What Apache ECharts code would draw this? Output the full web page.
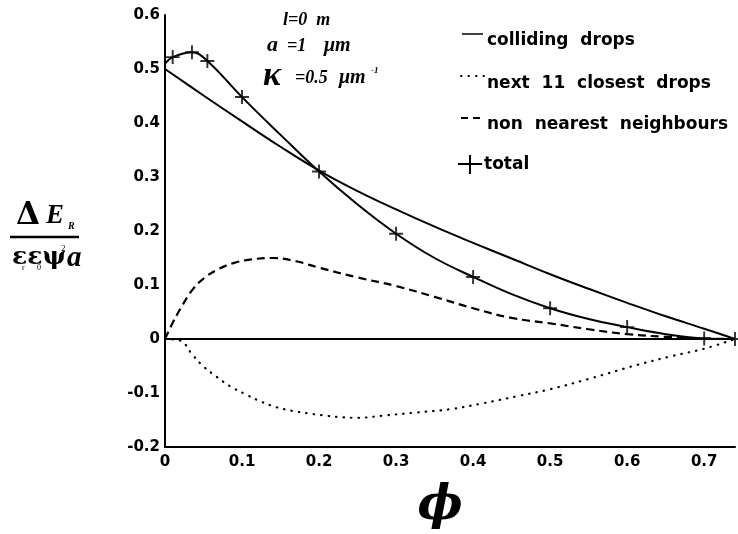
<!DOCTYPE html>
<html><head><meta charset="utf-8">
<script src="https://cdn.jsdelivr.net/npm/echarts@6/dist/echarts.min.js"></script>
<style>html,body{margin:0;padding:0;background:#fff}#c{width:738px;height:534px}</style>
</head><body><div id="c"></div>
<script>
// ---- data ----
const collidingX = [0, 0.05, 0.1, 0.15, 0.2, 0.25, 0.3, 0.35, 0.4, 0.45, 0.5, 0.55, 0.6, 0.65, 0.7, 0.74];
const collidingY = [0.5, 0.451, 0.403, 0.356, 0.312, 0.274, 0.24, 0.208, 0.178, 0.149, 0.12, 0.093, 0.067, 0.042, 0.019, 0];

const next11X = [0, 0.02, 0.035, 0.05, 0.067, 0.084, 0.104, 0.123, 0.144, 0.165, 0.187, 0.209, 0.23, 0.25, 0.283, 0.327, 0.37, 0.413, 0.457, 0.5, 0.55, 0.613, 0.66, 0.7, 0.74];
const next11Y = [0, -0.003, -0.028, -0.051, -0.07, -0.087, -0.102, -0.115, -0.126, -0.133, -0.138, -0.142, -0.145, -0.146, -0.142, -0.136, -0.13, -0.119, -0.106, -0.093, -0.074, -0.048, -0.031, -0.018, 0];

const nonNearestX = [0, 0.01, 0.02, 0.035, 0.05, 0.07, 0.09, 0.11, 0.14, 0.17, 0.2, 0.25, 0.3, 0.35, 0.4, 0.45, 0.5, 0.55, 0.6, 0.65, 0.7, 0.74];
const nonNearestY = [0, 0.03, 0.056, 0.09, 0.112, 0.13, 0.141, 0.147, 0.15, 0.144, 0.132, 0.114, 0.098, 0.078, 0.057, 0.039, 0.029, 0.018, 0.009, 0.004, 0.001, 0];

const totalX = [0, 0.01, 0.035, 0.055, 0.1, 0.15, 0.2, 0.25, 0.3, 0.35, 0.4, 0.45, 0.5, 0.55, 0.6, 0.65, 0.7, 0.74];
const totalY = [0.51, 0.522, 0.531, 0.515, 0.448, 0.378, 0.31, 0.249, 0.195, 0.15, 0.115, 0.083, 0.057, 0.037, 0.022, 0.009, 0.001, 0];

const totalMarkX = [0.01, 0.035, 0.055, 0.1, 0.2, 0.3, 0.4, 0.5, 0.6, 0.7, 0.74];
const totalMarkY = [0.522, 0.531, 0.515, 0.448, 0.31, 0.195, 0.115, 0.057, 0.022, 0.001, 0];

const legendLabels = ['colliding  drops', 'next  11  closest  drops', 'non  nearest  neighbours', 'total'];
const xTitle = 'ϕ';

const zip = (xs, ys) => xs.map((x, i) => [x, ys[i]]);
const fmt = v => Math.abs(v) < 1e-9 ? '0' : v.toFixed(1);
const SANS = 'DejaVu Sans';
const SERIF = 'Liberation Serif';
const PLUS = 'path://M0,8.6H20V11.4H0Z M8.6,0H11.4V20H8.6Z';

const chart = echarts.init(document.getElementById('c'), null, {renderer: 'canvas'});

const legendY = [34, 76, 118, 164];
const textY = [41, 84, 125, 165];
const g = [];
// legend samples
g.push({type: 'line', shape: {x1: 462, y1: legendY[0], x2: 483, y2: legendY[0]}, style: {stroke: '#000', lineWidth: 1.5}});
g.push({type: 'line', shape: {x1: 461, y1: legendY[1], x2: 484, y2: legendY[1]}, style: {stroke: '#000', lineWidth: 2, lineDash: [0.5, 7], lineCap: 'round'}});
g.push({type: 'line', shape: {x1: 461, y1: legendY[2], x2: 484, y2: legendY[2]}, style: {stroke: '#000', lineWidth: 2, lineDash: [7, 5]}});
g.push({type: 'line', shape: {x1: 458, y1: legendY[3], x2: 482, y2: legendY[3]}, style: {stroke: '#000', lineWidth: 2}});
g.push({type: 'line', shape: {x1: 470, y1: 155, x2: 470, y2: 174}, style: {stroke: '#000', lineWidth: 2}});
legendLabels.forEach((t, i) => {
  g.push({type: 'text', x: i === 3 ? 484 : 487, y: textY[i], style: {text: t, fill: '#000', font: 'bold 17px "' + SANS + '"', verticalAlign: 'middle', align: 'left'}});
});
// parameter annotations
const ann = (text, x, y, size, extra) => g.push({type: 'text', x, y, style: Object.assign({text, fill: '#000', font: 'italic bold ' + size + 'px "' + SERIF + '"', verticalAlign: 'middle', align: 'left'}, extra || {})});
ann('l=0  m', 283, 20, 18);
ann('a', 267, 45, 22);
ann('=1', 287, 46, 18);
ann('μm', 324, 46, 20);
ann('κ', 263, 76, 34);
ann('=0.5', 295, 78, 18);
ann('μm', 339, 78, 20);
ann('-1', 371, 71, 9);
// y-axis title (fraction)
g.push({type: 'text', x: 16, y: 216, style: {text: 'Δ', fill: '#000', font: 'bold 31px "DejaVu Serif"', verticalAlign: 'middle'}});
ann('E', 46, 216, 27);
ann('R', 68, 226, 10);
g.push({type: 'line', shape: {x1: 10, y1: 237, x2: 79, y2: 237}, style: {stroke: '#000', lineWidth: 2.5}});
g.push({type: 'text', x: 12, y: 257, style: {text: 'εεψ', fill: '#000', font: 'bold 25px "DejaVu Serif"', verticalAlign: 'middle'}});
g.push({type: 'text', x: 22, y: 268, style: {text: 'r', fill: '#000', font: '8px "' + SERIF + '"', verticalAlign: 'middle'}});
g.push({type: 'text', x: 37, y: 268, style: {text: '0', fill: '#000', font: '8px "' + SERIF + '"', verticalAlign: 'middle'}});
g.push({type: 'text', x: 61, y: 249, style: {text: '2', fill: '#000', font: '9px "' + SERIF + '"', verticalAlign: 'middle'}});
ann('a', 67, 259, 29);

const axisLabelStyle = {color: '#000', fontFamily: SANS, fontWeight: 'bold', fontSize: 15, formatter: fmt};

chart.setOption({
  animation: false,
  backgroundColor: '#fff',
  grid: {left: 165, right: 3, top: 15, bottom: 87, containLabel: false, outerBoundsMode: 'none'},
  xAxis: {
    type: 'value', min: 0, max: 0.74, interval: 0.1,
    name: xTitle, nameLocation: 'middle', nameGap: 36,
    nameTextStyle: {fontFamily: 'DejaVu Serif', fontWeight: 'bold', fontStyle: 'italic', fontSize: 48, color: '#000', padding: [0, 20, 0, 0]},
    axisLine: {onZero: false, lineStyle: {color: '#000', width: 2}},
    axisTick: {show: false}, splitLine: {show: false},
    axisLabel: Object.assign({margin: 8, showMaxLabel: false}, axisLabelStyle)
  },
  yAxis: {
    type: 'value', min: -0.2, max: 0.6, interval: 0.1,
    axisLine: {show: true, onZero: false, lineStyle: {color: '#000', width: 2}},
    axisTick: {show: false}, splitLine: {show: false},
    axisLabel: Object.assign({margin: 5}, axisLabelStyle)
  },
  series: [
    {name: 'colliding drops', type: 'line', data: zip(collidingX, collidingY), smooth: 0.4, symbol: 'none',
     lineStyle: {color: '#000', width: 2},
     markLine: {silent: true, symbol: ['none', 'none'], label: {show: false}, data: [{yAxis: 0}],
       lineStyle: {color: '#000', width: 2, type: 'solid'}}},
    {name: 'next 11 closest drops', type: 'line', data: zip(next11X, next11Y), smooth: 0.4, symbol: 'none',
     lineStyle: {color: '#000', width: 2.2, type: [0.5, 7], cap: 'round'}},
    {name: 'non nearest neighbours', type: 'line', data: zip(nonNearestX, nonNearestY), smooth: 0.4, symbol: 'none',
     lineStyle: {color: '#000', width: 2.2, type: [8, 5]}},
    {name: 'total', type: 'line', data: zip(totalX, totalY), smooth: 0.4, symbol: 'none',
     lineStyle: {color: '#000', width: 2}},
    {name: 'total markers', type: 'scatter', data: zip(totalMarkX, totalMarkY), symbol: PLUS, symbolSize: 14,
     itemStyle: {color: '#000'}}
  ],
  graphic: g
});
</script>
</body></html>
